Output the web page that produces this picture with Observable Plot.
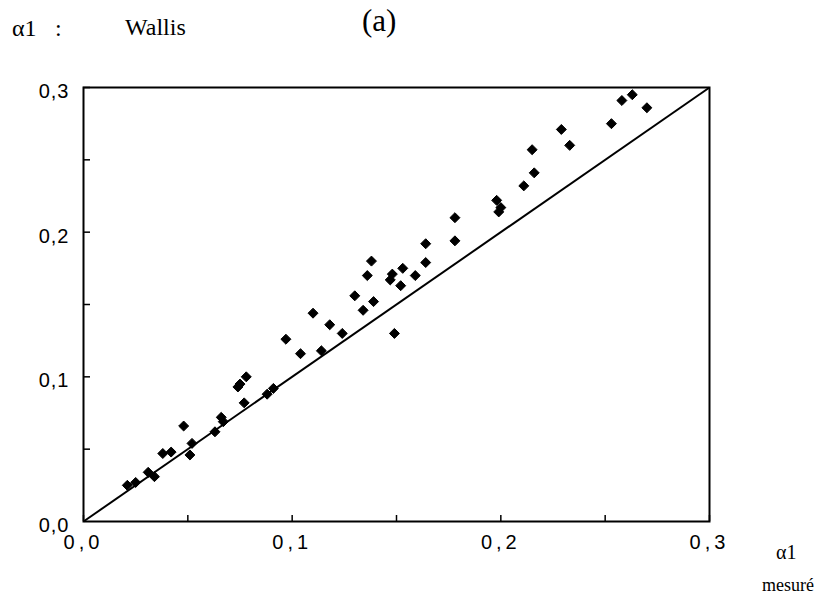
<!DOCTYPE html>
<html><head><meta charset="utf-8">
<script src="https://cdn.jsdelivr.net/npm/d3@7"></script>
<script src="https://cdn.jsdelivr.net/npm/@observablehq/plot@0.6"></script>
<style>
body{margin:0;background:#fff;}
#wrap{position:relative;width:834px;height:600px;}
.t{position:absolute;font-family:"Liberation Serif","Times New Roman",serif;color:#000;white-space:nowrap;line-height:1;}
</style></head><body>
<div id="wrap">
  <div id="chart"></div>
  <div class="t" style="left:12px;top:16px;font-size:24px;">α1</div>
  <div class="t" style="left:55px;top:16px;font-size:24px;">:</div>
  <div class="t" style="left:125px;top:15px;font-size:24px;">Wallis</div>
  <div class="t" style="left:362px;top:5px;font-size:31px;">(a)</div>
  <div class="t" style="left:776px;top:542px;font-size:20px;">α1</div>
  <div class="t" style="left:762px;top:576px;font-size:18px;">mesuré</div>
</div>
<script>
// α1 measured (x) vs α1 Wallis (y)
const alphaMeasured = [0.021,0.025,0.031,0.034,0.038,0.042,0.048,0.052,0.051,0.063,0.066,0.067,0.074,0.075,0.078,0.077,0.088,0.091,0.097,0.104,0.114,0.110,0.118,0.124,0.130,0.134,0.139,0.136,0.138,0.147,0.148,0.152,0.153,0.149,0.159,0.164,0.164,0.178,0.178,0.198,0.199,0.200,0.211,0.216,0.215,0.229,0.233,0.253,0.258,0.263,0.270];
const alphaWallis   = [0.025,0.027,0.034,0.031,0.047,0.048,0.066,0.054,0.046,0.062,0.072,0.069,0.093,0.095,0.100,0.082,0.088,0.092,0.126,0.116,0.118,0.144,0.136,0.130,0.156,0.146,0.152,0.170,0.180,0.167,0.171,0.163,0.175,0.130,0.170,0.179,0.192,0.210,0.194,0.222,0.214,0.217,0.232,0.241,0.257,0.271,0.260,0.275,0.291,0.295,0.286];
const identityLine = [0, 0.3];
const minorTicks = [0, 0.05, 0.1, 0.15, 0.2, 0.25, 0.3];
const labelTicks = [0, 0.1, 0.2, 0.3];

const points = alphaMeasured.map((x, i) => ({x, y: alphaWallis[i]}));
const fmt = d => d.toFixed(1).replace(".", ",");

const chart = Plot.plot({
  width: 834, height: 600,
  marginLeft: 83, marginRight: 125, marginTop: 87, marginBottom: 79,
  x: {domain: [0, 0.3], label: null},
  y: {domain: [0, 0.3], label: null},
  style: {fontFamily: "'Liberation Sans', Arial, sans-serif", fontSize: "20px", color: "#000", background: "#fff"},
  marks: [
    Plot.axisX({ticks: minorTicks, tickSize: -6, text: null, strokeWidth: 1.5, label: null}),
    Plot.axisY({ticks: minorTicks.slice(1), tickSize: -7, text: null, strokeWidth: 1.5, label: null}),
    Plot.axisX({ticks: labelTicks, tickSize: 0, tickPadding: 13, tickFormat: fmt, label: null}),
    Plot.axisY({ticks: labelTicks, tickSize: 0, tickPadding: 14, tickFormat: fmt, label: null, dy: 4}),
    Plot.link([identityLine], {x1: d => d[0], y1: d => d[0], x2: d => d[1], y2: d => d[1], stroke: "#000", strokeWidth: 2}),
    Plot.frame({stroke: "#000", strokeWidth: 2}),
    Plot.dot(points, {x: "x", y: "y", symbol: "diamond2", r: 4.5, fill: "#000", stroke: "#000", strokeWidth: 1, strokeLinejoin: "round"})
  ]
});
document.getElementById("chart").appendChild(chart);
d3.select(chart).selectAll('g[aria-label="x-axis tick label"] text').style("letter-spacing", "4px");
d3.select(chart).selectAll('g[aria-label="y-axis tick label"] text').style("letter-spacing", "1px");
</script>
</body></html>
